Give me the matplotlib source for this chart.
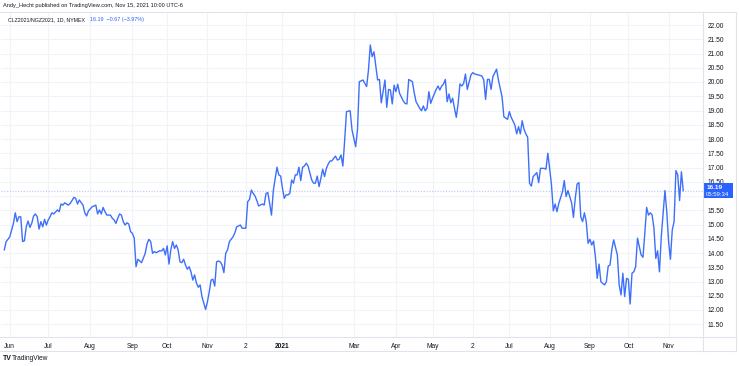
import numpy as np
import matplotlib
matplotlib.use("Agg")
import matplotlib.pyplot as plt
from matplotlib.lines import Line2D
from matplotlib.patches import Rectangle

plt.rcParams['font.family'] = ['Liberation Sans', 'DejaVu Sans']

# trading-day index (0 = first session of June 2020)
day = [-2, -1, 0, 1, 2, 3, 4, 5, 6, 7, 8, 9, 10, 11, 12, 13, 14, 15, 16, 17, 18, 19, 20, 21, 22, 23, 24, 25,
       27, 28, 29, 30, 31, 33, 34, 35, 36, 37, 38, 39, 41, 42, 43, 44, 46, 48, 49, 50, 51, 52, 53, 54,
       56, 57, 58, 59, 60, 61,
       62, 63, 64, 65, 66, 67, 68, 69, 70, 71, 72, 73, 75, 76, 77, 78, 79, 80, 81,
       83, 84, 85, 86, 87, 88, 89, 90, 91, 92, 93, 94, 95, 96, 97, 98, 99, 100, 101, 102, 103, 104,
       105, 106, 107, 108, 109, 110, 111, 112, 113, 114, 115, 116, 117, 118, 119, 120, 121, 123, 124,
       125, 127, 128, 130, 131, 132, 133, 134, 135, 136, 137, 139, 140, 141, 142, 143, 144, 145, 146,
       147, 148, 149, 150, 151, 152, 153, 154, 155, 156, 157, 158, 159, 160, 161, 162, 163, 164, 165,
       166, 167, 168, 169, 170, 171, 172, 173, 174, 175, 176, 177, 178, 179, 180, 181, 182, 183,
       184, 185, 187, 188, 190, 191, 192, 194, 196, 197, 198, 199, 200, 202, 203, 204, 206, 207, 208,
       209, 210, 211, 212, 213, 214, 216, 217, 218, 219, 221, 222, 223, 225, 226, 227, 228, 229, 230,
       231, 232, 234, 235, 236, 237, 238, 239, 240, 241, 242, 243, 244, 245, 246, 247, 248, 249, 250,
       251, 253, 254, 255, 257, 259, 260, 261, 262, 263, 264, 265, 267, 268, 270, 271, 273, 274, 275,
       277, 278, 279, 280, 281, 282, 283, 284,
       285, 286, 287, 289, 290, 291, 293, 294, 295, 296, 297, 298, 299, 300, 301, 303, 304, 305, 306,
       308, 309, 310, 311, 312, 313, 314, 315, 316, 317, 318, 319, 320, 321, 322, 323, 324, 326, 327,
       328, 329, 330, 331, 333, 334, 335, 336, 337, 338, 339, 340, 341, 342, 343, 344, 345, 346, 347,
       348, 349, 350, 351, 352, 353, 354, 355, 356, 357, 359, 360, 361, 362, 363, 364, 365, 366, 367,
       368, 369]

# CLZ2021/NGZ2021 daily close
ratio = [14.11, 14.40, 14.48, 14.57, 14.81, 15.04, 15.41, 15.10, 15.27, 15.27, 14.40, 14.43, 14.92, 15.12,
         14.90, 15.04, 15.30, 15.37, 15.27, 14.84, 15.10, 14.92, 15.18, 14.98, 15.16, 15.27, 15.41, 15.37,
         15.51, 15.45, 15.72, 15.68, 15.76, 15.68, 15.74, 15.84, 15.95, 15.92, 15.72, 15.86, 15.68, 15.41,
         15.30, 15.48, 15.62, 15.68, 15.37, 15.51, 15.37, 15.60, 15.45, 15.33, 15.33, 15.22, 15.16, 15.04,
         15.22, 15.37,
         15.33, 15.10, 14.98, 15.06, 15.02, 14.75, 14.69, 14.52, 13.52, 13.78, 13.72, 13.66, 13.99, 14.32,
         14.48, 14.40, 13.99, 14.05, 14.01, 14.08, 14.07, 14.16, 13.93, 14.25, 13.61, 14.11, 14.40, 14.16,
         14.28, 14.11, 13.69, 13.66, 13.78, 13.58, 13.43, 13.52, 13.34, 13.05, 13.23, 12.94, 12.80, 12.88,
         12.47, 12.24, 12.02, 12.29, 12.64, 13.05, 13.08, 12.84, 13.69, 13.72, 13.69, 13.58, 13.31, 13.99,
         14.11, 14.40, 14.57, 14.71,
         14.92, 14.98, 14.87, 14.87, 15.80, 15.88, 16.21, 16.09, 16.00, 15.84, 15.65, 15.72, 15.68, 16.09,
         16.12, 15.74, 15.33, 16.19, 16.59, 17.01, 16.74, 16.70, 16.27, 15.92, 16.04, 16.04, 16.09, 16.56,
         16.45, 16.74, 16.74, 17.01, 16.54, 17.01, 17.05, 17.15, 17.05, 16.80, 16.56, 16.45, 16.45, 16.70,
         16.33, 16.62, 16.94, 16.68, 16.97, 17.12, 17.23, 17.23, 17.32, 17.40, 17.26, 17.29, 17.44, 17.05,
         17.96, 18.96, 18.99, 18.32, 17.73, 18.32, 20.01, 20.07, 19.84, 20.42, 21.30, 20.89, 21.06, 20.07,
         20.09, 19.27, 20.07, 19.11, 19.74, 19.72, 19.23, 19.89, 19.66, 19.92, 19.60, 19.34, 19.25, 19.23,
         20.09, 20.01, 19.62, 19.31, 19.08, 18.99, 19.16, 18.99, 19.08, 19.66, 19.25, 19.43, 19.74, 19.86,
         19.72, 19.86, 19.93, 20.09, 19.31, 19.58, 19.27, 19.43, 19.08, 18.76, 19.25, 19.93, 19.86, 19.95,
         20.28, 19.74, 20.25, 20.33, 20.28, 20.25, 20.21, 20.07, 19.39, 20.09, 20.09, 19.74, 20.19, 20.45,
         20.07, 19.48, 18.78, 18.69, 18.96, 18.76, 18.49, 18.18, 18.43, 18.18, 18.64, 18.34, 18.18, 18.06,
         16.45, 16.35, 16.68, 16.82, 16.47, 16.97, 16.97, 16.94, 17.50, 16.97, 16.39, 15.48, 15.72, 15.45,
         15.74, 16.15, 16.54, 15.98, 16.19, 15.76, 15.25, 15.92, 16.42, 16.47, 15.27, 15.10, 15.41, 15.10,
         14.34, 14.48, 14.28, 14.42, 13.87, 13.11, 13.61, 12.99, 12.88, 12.99, 13.54, 13.58, 14.13, 14.46,
         13.93, 12.88, 12.53, 13.29, 12.47, 13.11, 13.08, 12.21, 13.29, 13.34, 13.52, 14.52, 14.22, 13.93,
         13.85, 14.69, 15.60, 15.33, 15.41, 15.33, 14.87, 13.81, 14.08, 13.34, 14.57, 16.19, 15.45, 14.40,
         13.78, 14.81, 15.10, 16.89, 16.74, 15.84, 16.85, 16.19]

month_days = [1, 22, 45, 68, 87, 109, 130, 150, 189, 212, 232, 254, 274, 296, 318, 339, 361]
month_labels = ["Jun", "Jul", "Aug", "Sep", "Oct", "Nov", "2", "2021", "Mar", "Apr", "May", "2",
                "Jul", "Aug", "Sep", "Oct", "Nov"]
price_ticks = np.arange(11.5, 22.01, 0.5)

last_price = 16.19
last_change = -0.67
last_change_pct = -3.97
countdown = "05:59:34"

W, H = 739, 366
BLUE = "#2962ff"
TEXT = "#131722"
GRID = "#f0f3fa"
FRAME = "#e0e3eb"


def fx(px):
    return px / W


def fy(py):
    return 1 - py / H


fig = plt.figure(figsize=(W / 100, H / 100), dpi=100)
fig.patch.set_facecolor("white")

# plot area in pixels: x 1..703, y 12..337
ax = fig.add_axes([fx(1), fy(337), fx(703) - fx(1), fy(12) - fy(337)])
ax.set_xlim(-3.8, 379.8)
ax.set_ylim(22 - (337 - 25) / 28.5, 22 + 13 / 28.5)

ax.plot(day, ratio, color="#3d6ffa", lw=1.0, solid_joinstyle="round", zorder=3)
ax.axhline(last_price, color=BLUE, alpha=0.35, lw=0.8, ls=(0, (1, 1.5)), zorder=2)

ax.set_yticks(price_ticks)
ax.set_yticklabels(["" if abs(v - 16.0) < 1e-6 else f"{v:.2f}" for v in price_ticks])
ax.yaxis.tick_right()
ax.set_xticks(month_days)
ax.set_xticklabels(month_labels)
ax.tick_params(axis="both", length=0, labelsize=4.8, labelcolor=TEXT)
ax.tick_params(axis="y", pad=3.5)
ax.tick_params(axis="x", pad=4.0)
for lbl in ax.get_xticklabels():
    if lbl.get_text() == "2021":
        lbl.set_fontweight("bold")
ax.grid(True, color=GRID, lw=0.8)
ax.set_axisbelow(True)
for s in ax.spines.values():
    s.set_visible(False)

# frame lines
fig.add_artist(Line2D([fx(0), fx(736)], [fy(12), fy(12)], color=FRAME, lw=0.8))
fig.add_artist(Line2D([fx(0), fx(736)], [fy(337), fy(337)], color=FRAME, lw=0.8))
fig.add_artist(Line2D([fx(0), fx(736)], [fy(351), fy(351)], color=FRAME, lw=0.8))
fig.add_artist(Line2D([fx(703), fx(703)], [fy(12), fy(351)], color=FRAME, lw=0.8))
fig.add_artist(Line2D([fx(736), fx(736)], [fy(12), fy(351)], color=FRAME, lw=0.8))

# last price label on the price scale
yl = fy(12) - (fy(12) - fy(337)) * (22 + 13 / 28.5 - last_price) / (13 / 28.5 + (337 - 25) / 28.5)
fig.add_artist(Rectangle((fx(703), yl - 7.5 / H), fx(733) - fx(703), 15 / H,
                         facecolor=BLUE, edgecolor="none", transform=fig.transFigure))
fig.text(fx(707), yl + 3 / H, f"{last_price:.2f}", color="white", fontsize=4.6,
         va="center", ha="left", fontweight="bold")
fig.text(fx(706), yl - 3.5 / H, countdown, color="white", fontsize=4.3, va="center", ha="left")

# header texts
fig.text(fx(3), fy(6), "Andy_Hecht published on TradingView.com, Nov 15, 2021 10:00 UTC-6",
         color=TEXT, fontsize=4.1, va="center", ha="left")
fig.text(fx(8), fy(19.5), "CLZ2021/NGZ2021, 1D, NYMEX", color=TEXT, fontsize=3.8, va="center", ha="left")
fig.text(fx(90), fy(19.5),
         f"{last_price:.2f}  \u2212{abs(last_change):.2f} (\u2212{abs(last_change_pct):.2f}%)",
         color=BLUE, fontsize=3.9, va="center", ha="left")

# footer logo
fig.text(fx(3), fy(358), "TV", color=TEXT, fontsize=5, fontweight="bold", va="center", ha="left")
fig.text(fx(12), fy(358), "TradingView", color=TEXT, fontsize=4.8, va="center", ha="left")

fig.savefig("out.png", dpi=100, facecolor="white")
